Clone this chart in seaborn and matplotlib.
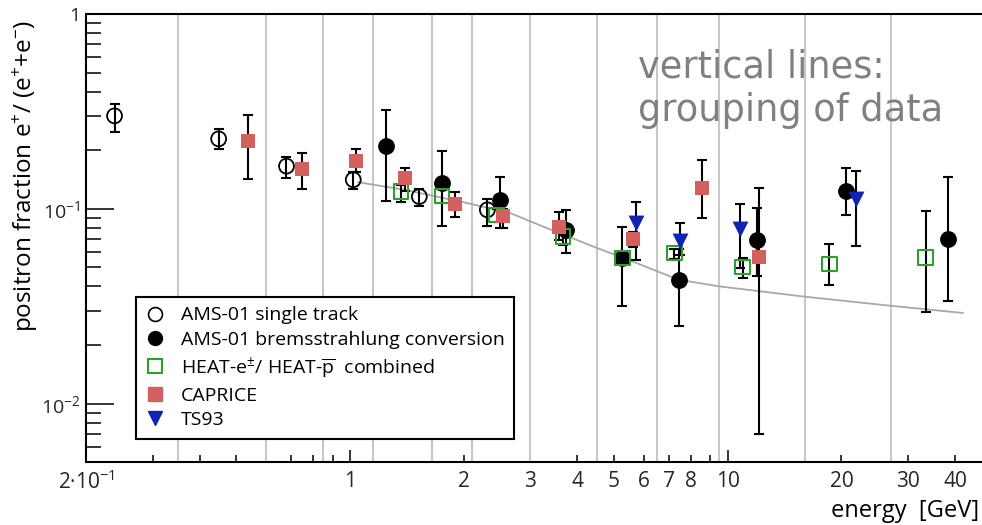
import matplotlib
matplotlib.use("Agg")
import matplotlib.pyplot as plt
from matplotlib.lines import Line2D
from matplotlib.ticker import FixedLocator, FuncFormatter, NullFormatter
import numpy as np
import pandas as pd
import seaborn as sns

# ---- data -----------------------------------------------------------------
# AMS-01 single track
ams_st_e  = [0.238, 0.449, 0.679, 1.02, 1.526, 2.31]
ams_st_f  = [0.300, 0.2286, 0.1656, 0.141, 0.1156, 0.0988]
ams_st_hi = [0.345, 0.256, 0.185, 0.155, 0.126, 0.1125]
ams_st_lo = [0.249, 0.202, 0.1447, 0.126, 0.1036, 0.0818]

# AMS-01 bremsstrahlung conversion
ams_br_e  = [1.247, 1.754, 2.495, 3.73, 5.26, 7.44, 11.95, 20.6, 38.2]
ams_br_f  = [0.2104, 0.1355, 0.111, 0.078, 0.0559, 0.0432, 0.0693, 0.1237, 0.0699]
ams_br_hi = [0.322, 0.197, 0.1453, 0.0988, 0.0811, 0.062, 0.1008, 0.1617, 0.1465]
ams_br_lo = [0.110, 0.0818, 0.0796, 0.0593, 0.0319, 0.0251, 0.045, 0.0931, 0.0338]

# HEAT-e± / HEAT-pbar combined
heat_e  = [1.366, 1.75, 2.445, 3.66, 5.26, 7.22, 10.96, 18.6, 33.4]
heat_f  = [0.1227, 0.1166, 0.0931, 0.0721, 0.0559, 0.0593, 0.0502, 0.052, 0.0563]
heat_hi = [0.133, 0.127, 0.100, 0.080, 0.060, 0.0625, 0.0561, 0.0662, 0.0969]
heat_lo = [0.109, 0.107, 0.086, 0.065, 0.052, 0.0555, 0.0444, 0.0408, 0.0297]

# CAPRICE
cap_e  = [0.5365, 0.748, 1.037, 1.395, 1.90, 2.547, 3.567, 5.61, 8.564, 12.1]
cap_f  = [0.223, 0.1597, 0.177, 0.1437, 0.1057, 0.092, 0.0811, 0.0699, 0.1286, 0.0563]
cap_hi = [0.3034, 0.193, 0.202, 0.162, 0.1213, 0.100, 0.0962, 0.076, 0.178, 0.1286]
cap_lo = [0.142, 0.126, 0.155, 0.124, 0.0913, 0.0796, 0.0693, 0.064, 0.0896, 0.007]

# TS93
ts_e  = [5.71, 7.47, 10.78, 21.8]
ts_f  = [0.0845, 0.068, 0.079, 0.1125]
ts_hi = [0.109, 0.0845, 0.106, 0.1567]
ts_lo = [0.0543, 0.058, 0.0497, 0.0648]

# secondary-production expectation
model_e = [1.05, 1.4, 2.0, 2.66, 3.2, 4.5, 5.3, 7.4, 9.5, 16, 27, 42]
model_f = [0.137, 0.125, 0.108, 0.095, 0.082, 0.063, 0.056, 0.0433, 0.040, 0.0354, 0.0318, 0.0292]

# energy bin boundaries used for grouping
group_edges = [0.35, 0.6, 0.85, 1.15, 1.65, 2.1, 3.0, 4.5, 6.5, 9.5, 16, 27]

x_tick_values = [0.2, 1, 2, 3, 4, 5, 6, 7, 8, 10, 20, 30, 40]
x_tick_labels = ["2\u00b710$^{-1}$", "1", "2", "3", "4", "5", "6", "7", "8", "10", "20", "30", "40"]
y_tick_values = [0.01, 0.1, 1]
y_tick_labels = ["10$^{-2}$", "10$^{-1}$", "1"]

# ---- style ----------------------------------------------------------------
sns.set_theme(style="white")
plt.rcParams["font.family"] = ["Open Sans", "DejaVu Sans"]
plt.rcParams["mathtext.fontset"] = "custom"
plt.rcParams["mathtext.rm"] = "Open Sans"
plt.rcParams["mathtext.it"] = "Open Sans:italic"
plt.rcParams["mathtext.bf"] = "Open Sans:bold"
plt.rcParams["text.color"] = "black"

RED = "#d35f5f"
GREEN = "#2ca02c"
BLUE = "#1024b4"
GRID = "#c8c8c8"

fig = plt.figure(figsize=(9.82, 5.25), dpi=100)
W, H = 982, 525
x0, x1, ytop, ybot = 86, 991.7, 14, 462.3
ax = fig.add_axes([x0 / W, (H - ybot) / H, (x1 - x0) / W, (ybot - ytop) / H])
ax.set_xscale("log")
ax.set_yscale("log")
ax.set_xlim(0.2, 50)
ax.set_ylim(0.005, 1)

for e in group_edges:
    ax.axvline(e, color=GRID, lw=1.5, zorder=1)

# expectation curve
sns.lineplot(x=model_e, y=model_f, ax=ax, color="#a8a8a8", lw=1.3, zorder=2)

series = [
    (ams_st_e, ams_st_f, ams_st_lo, ams_st_hi, dict(marker="o", s=115, facecolor="none", edgecolor="black", linewidth=1.3)),
    (ams_br_e, ams_br_f, ams_br_lo, ams_br_hi, dict(marker="o", s=125, color="black", edgecolor="black")),
    (heat_e, heat_f, heat_lo, heat_hi, dict(marker="s", s=110, facecolor="none", edgecolor=GREEN, linewidth=1.5)),
    (cap_e, cap_f, cap_lo, cap_hi, dict(marker="s", s=110, color=RED, edgecolor=RED, linewidth=0)),
    (ts_e, ts_f, ts_lo, ts_hi, dict(marker="v", s=130, color=BLUE, edgecolor=BLUE, linewidth=0)),
]

for e, f, lo, hi, style in series:
    f_arr = np.asarray(f)
    yerr = np.vstack([f_arr - np.asarray(lo), np.asarray(hi) - f_arr])
    ax.errorbar(e, f, yerr=yerr, fmt="none", ecolor="black", elinewidth=1.5,
                capsize=3.5, capthick=1.5, zorder=3)
    df = pd.DataFrame({"energy": e, "fraction": f})
    sns.scatterplot(data=df, x="energy", y="fraction", ax=ax, zorder=4, legend=False, **style)

# ---- axes -----------------------------------------------------------------
for side in ["left", "bottom", "top", "right"]:
    ax.spines[side].set_color("black")
    ax.spines[side].set_linewidth(1.5)

ax.yaxis.set_major_locator(FixedLocator(y_tick_values))
ax.yaxis.set_major_formatter(FuncFormatter(lambda v, p: dict(zip(y_tick_values, y_tick_labels)).get(v, "")))
ax.yaxis.set_minor_formatter(NullFormatter())
ax.tick_params(axis="y", which="major", direction="in", length=20, width=1.3, pad=4, labelsize=14, left=True, right=False)
ax.tick_params(axis="y", which="minor", direction="in", length=11, width=1.3, left=True, right=False)

minor_x = [v * d for d in (0.1, 1, 10) for v in range(2, 10)]
ax.xaxis.set_major_locator(FixedLocator([1, 10]))
ax.xaxis.set_minor_locator(FixedLocator([m for m in minor_x if 0.2 <= m <= 50]))
lbl = dict(zip(x_tick_values, x_tick_labels))
def xfmt(v, p):
    for k, s in lbl.items():
        if abs(v - k) < 1e-6 * k:
            return s
    return ""
ax.xaxis.set_major_formatter(FuncFormatter(xfmt))
ax.xaxis.set_minor_formatter(FuncFormatter(xfmt))
ax.tick_params(axis="x", which="major", direction="in", length=9, width=1.3, pad=6, labelsize=15, bottom=True, top=False)
ax.tick_params(axis="x", which="minor", direction="in", length=5, width=1.3, pad=6, labelsize=15, bottom=True, top=False)
ax.set_xlabel("")
ax.set_ylabel("")

fig.text(25 / W, 1 - 20 / H, "positron fraction e$^{+}$/ (e$^{+}$+e$^{-}$)", rotation=90,
         ha="center", va="top", fontsize=17.5)
fig.text(979 / W, 1 - 511 / H, "energy  [GeV]", ha="right", va="center", fontsize=17)

fig.text(638 / W, 1 - 49 / H, "vertical lines:\ngrouping of data", ha="left", va="top",
         fontsize=26.5, color="#808080", family="DejaVu Sans", linespacing=1.2)

# ---- legend ---------------------------------------------------------------
handles = [
    Line2D([], [], ls="none", marker="o", ms=10, mfc="none", mec="black", mew=1.2),
    Line2D([], [], ls="none", marker="o", ms=10, mfc="black", mec="black"),
    Line2D([], [], ls="none", marker="s", ms=9.5, mfc="none", mec=GREEN, mew=1.5),
    Line2D([], [], ls="none", marker="s", ms=9.5, mfc=RED, mec=RED),
    Line2D([], [], ls="none", marker="v", ms=10, mfc=BLUE, mec=BLUE),
]
labels = [
    "AMS-01 single track",
    "AMS-01 bremsstrahlung conversion",
    "HEAT-e$^{\\pm}$/ HEAT-$\\overline{\\mathrm{p}}$  combined",
    "CAPRICE",
    "TS93",
]
leg = ax.legend(handles, labels, loc="upper left",
                bbox_to_anchor=((136 - x0) / (x1 - x0), (ybot - 296.7) / (ybot - ytop)),
                borderaxespad=0, frameon=True, fancybox=False, framealpha=1,
                edgecolor="black", fontsize=14, handlelength=1.0, handletextpad=0.8,
                labelspacing=0.32, borderpad=0.5)
leg.get_frame().set_linewidth(1.5)
leg.set_zorder(6)

fig.savefig("out.png", dpi=100)
